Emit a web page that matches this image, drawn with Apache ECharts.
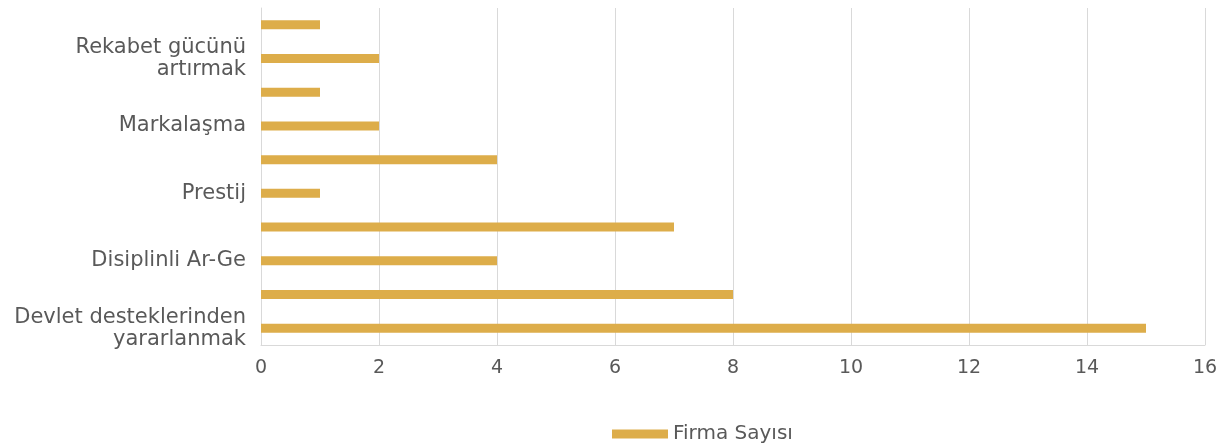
<!DOCTYPE html>
<html><head><meta charset="utf-8">
<script src="https://cdn.jsdelivr.net/npm/echarts@6/dist/echarts.min.js"></script>
<style>html,body{margin:0;padding:0;background:#fff}#c{width:1223px;height:446px}</style>
</head><body><div id="c"></div>
<script>
const categories = ["Devlet desteklerinden\nyararlanmak", "", "Disiplinli Ar-Ge", "", "Prestij", "", "Markalaşma", "", "Rekabet gücünü\nartırmak", ""];
const firmaSayisi = [15, 8, 4, 7, 1, 4, 2, 1, 2, 1];
const xTicks = {min: 0, max: 16, interval: 2};
const seriesName = "Firma Sayısı";

const font = "DejaVu Sans";
const chart = echarts.init(document.getElementById('c'), null, {renderer: 'canvas'});
chart.setOption({
  animation: false,
  textStyle: {fontFamily: font},
  grid: {left: 261, right: 18, top: 8, bottom: 101, containLabel: false},
  legend: {
    top: 419, left: 607, itemWidth: 56, itemHeight: 9, itemGap: 10,
    textStyle: {fontSize: 20, color: '#595959', fontFamily: font},
    data: [{name: seriesName, icon: 'rect'}]
  },
  xAxis: {
    type: 'value', min: xTicks.min, max: xTicks.max, interval: xTicks.interval,
    axisLine: {show: true, lineStyle: {color: '#d9d9d9'}},
    axisTick: {show: false},
    axisLabel: {fontSize: 19, color: '#595959', margin: 14, fontFamily: font},
    splitLine: {show: true, lineStyle: {color: '#d9d9d9', width: 1}}
  },
  yAxis: {
    type: 'category', data: categories,
    axisLine: {show: true, lineStyle: {color: '#d9d9d9'}},
    axisTick: {show: false},
    axisLabel: {interval: 1, fontSize: 21, color: '#595959', margin: 15, align: 'right', lineHeight: 22, fontFamily: font}
  },
  series: [{
    name: seriesName, type: 'bar', data: firmaSayisi, barWidth: 9,
    itemStyle: {color: '#DDAD4A'}
  }]
});
</script></body></html>
